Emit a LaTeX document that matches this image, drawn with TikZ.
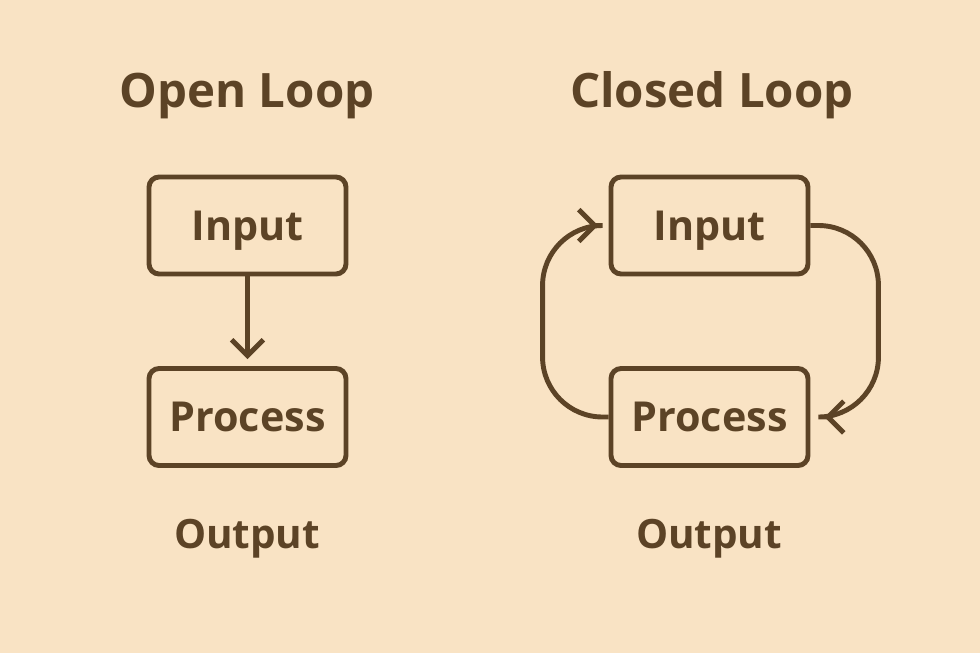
\documentclass[tikz,border=0pt]{standalone}
\usepackage{fontspec}
\setmainfont{Open Sans}
\usetikzlibrary{arrows.meta}
\definecolor{bgtan}{HTML}{F9E3C4}
\definecolor{ink}{HTML}{5C4326}
\begin{document}
\begin{tikzpicture}[x=0.02cm,y=-0.02cm,
  box/.style={draw=ink,line width=2.8pt,rounded corners=0.2cm,minimum width=3.94cm,minimum height=1.94cm,text height=18pt,text depth=1.2pt,text=ink,font=\fontsize{23.5}{26}\selectfont\bfseries},
  ttl/.style={text=ink,anchor=base,inner sep=0pt,font=\fontsize{27}{30}\selectfont\bfseries},
  lbl/.style={text=ink,anchor=base,inner sep=0pt,font=\fontsize{23}{26}\selectfont\bfseries},
  flow/.style={draw=ink,line width=2.8pt,-{Straight Barb[length=9pt,width=18pt,line width=2.8pt]}}]
\fill[bgtan] (0,0) rectangle (980,653);
\useasboundingbox (0,0) rectangle (980,653);
\node[ttl](otl) at (247,107) {Open Loop};
\node[ttl](ctl) at (712,107) {Closed Loop};
\node[box](oin) at (247.5,225.5) {Input};
\node[box](opr) at (247.5,417) {Process};
\node[box](cin) at (709.5,225.5) {Input};
\node[box](cpr) at (709.5,417) {Process};
\node[lbl](oout) at (247,548) {Output};
\node[lbl](cout) at (709,548) {Output};
\draw[flow,shorten >=4] (oin.south) -- (opr.north);
\draw[flow,rounded corners=1.2cm,shorten >=8] (cin.east) -- ++(68,0) |- (cpr.east);
\draw[flow,rounded corners=1.2cm,shorten >=6] (cpr.west) -- ++(-66,0) |- (cin.west);
\end{tikzpicture}
\end{document}
